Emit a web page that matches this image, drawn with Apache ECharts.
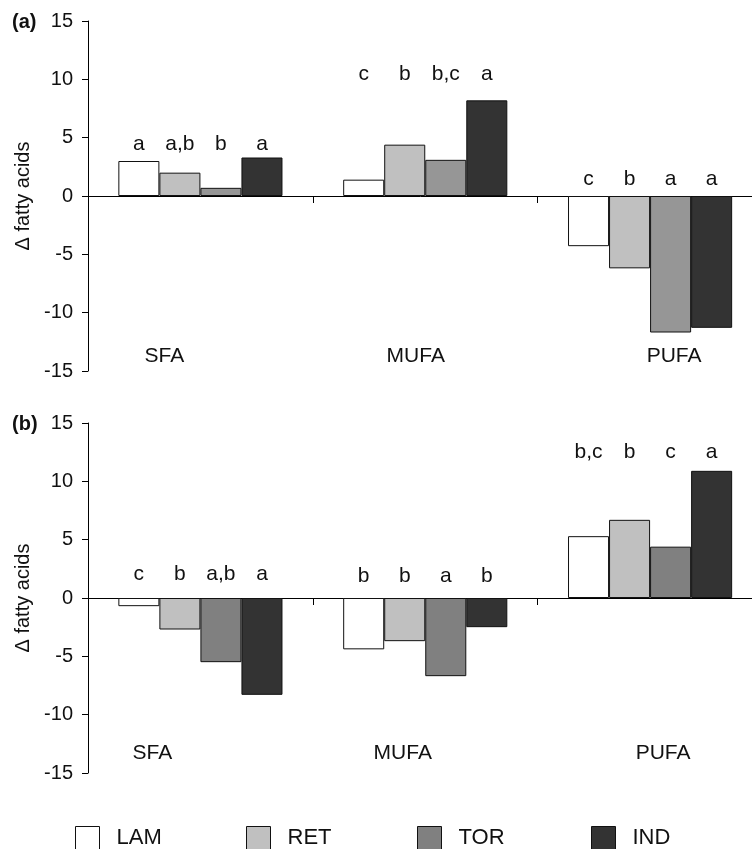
<!DOCTYPE html>
<html><head><meta charset="utf-8">
<script src="https://cdn.jsdelivr.net/npm/echarts@6/dist/echarts.min.js"></script>
<style>html,body{margin:0;padding:0;background:#fff}#c{width:752px;height:849px}</style>
</head><body><div id="c"></div>
<script>
const categories = ['SFA', 'MUFA', 'PUFA'];
const groups = ['LAM', 'RET', 'TOR', 'IND'];
const yTicks = { min: -15, max: 15, interval: 5 };

// Panel (a)
const a_LAM = [3.0, 1.4, -4.3];
const a_RET = [2.0, 4.4, -6.2];
const a_TOR = [0.7, 3.1, -11.7];
const a_IND = [3.3, 8.2, -11.3];
const a_letters_LAM = ['a', 'c', 'c'];
const a_letters_RET = ['a,b', 'b', 'b'];
const a_letters_TOR = ['b', 'b,c', 'a'];
const a_letters_IND = ['a', 'a', 'a'];
const a_letterHeight = [4.4, 10.4, 1.45];

// Panel (b)
const b_LAM = [-0.7, -4.4, 5.3];
const b_RET = [-2.7, -3.7, 6.7];
const b_TOR = [-5.5, -6.7, 4.4];
const b_IND = [-8.3, -2.5, 10.9];
const b_letters_LAM = ['c', 'b', 'b,c'];
const b_letters_RET = ['b', 'b', 'b'];
const b_letters_TOR = ['a,b', 'a', 'c'];
const b_letters_IND = ['a', 'b', 'a'];
const b_letterHeight = [2.0, 1.9, 12.5];

const FONT = "'Liberation Sans', Arial, Helvetica, sans-serif";
const TXT = '#111';
const colorsA = { LAM: '#ffffff', RET: '#c0c0c0', TOR: '#969696', IND: '#333333' };
const colorsB = { LAM: '#ffffff', RET: '#c0c0c0', TOR: '#808080', IND: '#333333' };
const legendColors = { LAM: '#ffffff', RET: '#c0c0c0', TOR: '#808080', IND: '#333333' };
const legendLeft = [75, 246, 417, 591];

const panels = [
  { title: '(a)', values: { LAM: a_LAM, RET: a_RET, TOR: a_TOR, IND: a_IND },
    letters: { LAM: a_letters_LAM, RET: a_letters_RET, TOR: a_letters_TOR, IND: a_letters_IND },
    letterHeight: a_letterHeight, colors: colorsA,
    grid: { left: 88, top: 21, right: -10.5, height: 350, outerBoundsMode: 'none', containLabel: false }, titleTop: 12,
    labelShift: [-36, -9.5, 24], labelMargin: 4 },
  { title: '(b)', values: { LAM: b_LAM, RET: b_RET, TOR: b_TOR, IND: b_IND },
    letters: { LAM: b_letters_LAM, RET: b_letters_RET, TOR: b_letters_TOR, IND: b_letters_IND },
    letterHeight: b_letterHeight, colors: colorsB,
    grid: { left: 88, top: 423, right: -10.5, height: 350, outerBoundsMode: 'none', containLabel: false }, titleTop: 414,
    labelShift: [-48, -22.5, 13], labelMargin: 9 }
];

const option = {
  animation: false,
  backgroundColor: '#fff',
  textStyle: { fontFamily: FONT },
  title: panels.map(p => ({ text: p.title, left: 12, top: p.titleTop, padding: 0,
    textStyle: { fontSize: 20, fontWeight: 'bold', color: TXT, fontFamily: FONT } })),
  grid: panels.map(p => p.grid),
  xAxis: [],
  yAxis: [],
  series: [],
  legend: groups.map((g, k) => ({
    data: [{ name: g, itemStyle: { color: legendColors[g], borderColor: '#111', borderWidth: 1 } }],
    icon: 'rect', itemWidth: 24, itemHeight: 23, itemGap: 0,
    left: legendLeft[k], top: 826, selectedMode: false, padding: 0,
    textStyle: { fontSize: 22, color: TXT, fontFamily: FONT, padding: [0, 0, 0, 12] }
  }))
};

panels.forEach((p, i) => {
  option.xAxis.push({
    gridIndex: i, type: 'category', data: categories, position: 'top',
    axisLine: { onZero: true, lineStyle: { color: '#000', width: 1 } },
    axisTick: { show: true, inside: true, length: 7, lineStyle: { color: '#000' } },
    axisLabel: { show: false }, splitLine: { show: false }
  });
  const rich = {};
  p.labelShift.forEach((d, k) => {
    rich['s' + k] = { fontSize: 21, color: TXT, fontFamily: FONT,
      padding: d < 0 ? [0, -2 * d, 0, 0] : [0, 0, 0, 2 * d] };
  });
  option.xAxis.push({
    gridIndex: i, type: 'category', data: categories, position: 'bottom',
    axisLine: { show: false, onZero: false }, axisTick: { show: false }, splitLine: { show: false },
    axisLabel: { inside: true, margin: p.labelMargin, fontSize: 21, color: TXT, fontFamily: FONT,
      formatter: (v, k) => '{s' + k + '|' + v + '}', rich: rich }
  });
  option.yAxis.push({
    gridIndex: i, type: 'value', min: yTicks.min, max: yTicks.max, interval: yTicks.interval,
    axisLine: { show: true, onZero: false, lineStyle: { color: '#000', width: 1 } },
    axisTick: { show: true, length: 6, lineStyle: { color: '#000' } },
    axisLabel: { fontSize: 20, color: TXT, margin: 15, fontFamily: FONT },
    splitLine: { show: false },
    name: 'Δ fatty acids', nameLocation: 'middle', nameGap: 54,
    nameTextStyle: { fontSize: 20, color: TXT, fontFamily: FONT }
  });
  groups.forEach(g => {
    option.series.push({
      type: 'bar', name: g, xAxisIndex: i * 2, yAxisIndex: i,
      data: p.values[g], barGap: '0%', barCategoryGap: '27%',
      itemStyle: { color: p.colors[g], borderColor: '#111', borderWidth: 1 },
      emphasis: { disabled: true },
      markPoint: {
        symbol: 'rect', symbolSize: 1, silent: true,
        itemStyle: { color: 'rgba(0,0,0,0)' },
        label: { show: true, position: 'inside', fontSize: 21, color: TXT, fontFamily: FONT,
          formatter: q => q.name },
        data: categories.map((c, k) => ({ name: p.letters[g][k], coord: [c, p.letterHeight[k]] }))
      }
    });
  });
});

const chart = echarts.init(document.getElementById('c'), null, { renderer: 'canvas' });
chart.setOption(option);
</script>
</body></html>
